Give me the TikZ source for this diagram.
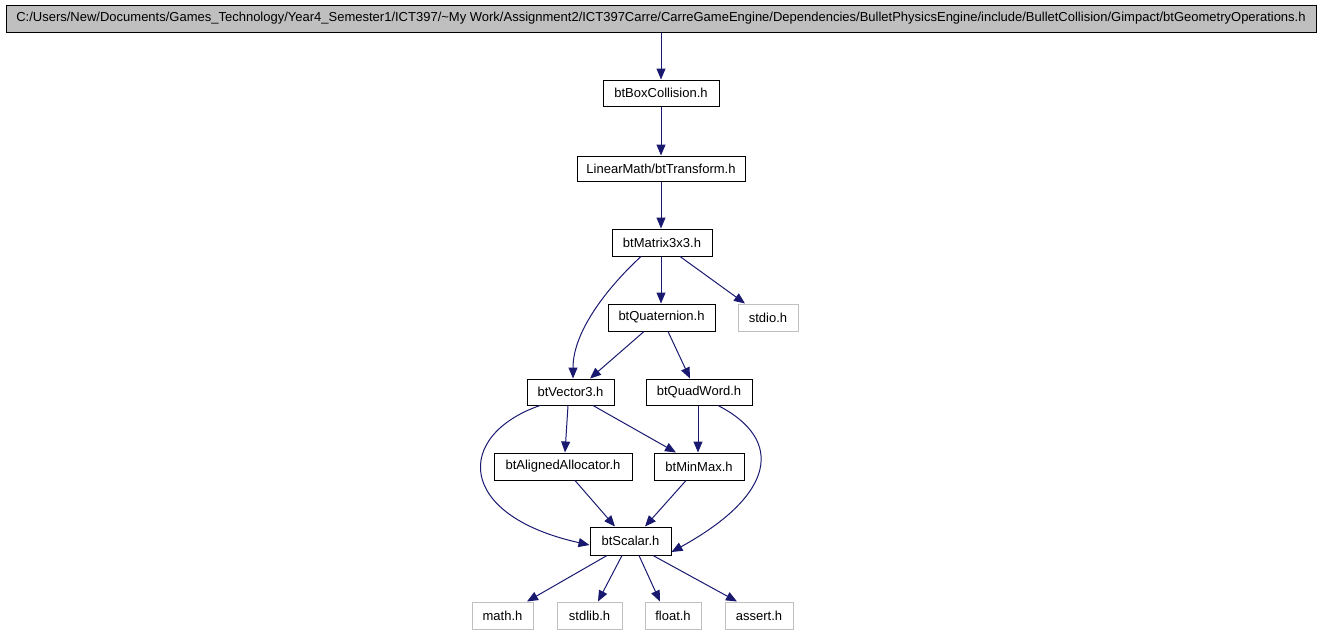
\documentclass[tikz,border=0pt]{standalone}
\usepackage{fontspec}
\setmainfont{Liberation Sans}
\usetikzlibrary{arrows.meta,calc}
\definecolor{edge}{HTML}{191970}
\definecolor{topfill}{HTML}{BFBFBF}
\definecolor{extborder}{HTML}{C0C0C0}
\tikzset{
  box/.style={draw=black, line width=1pt, inner sep=0pt, font=\fontsize{13}{15}\selectfont, text=black},
  extbox/.style={draw=extborder, line width=1pt, inner sep=0pt, font=\fontsize{13}{15}\selectfont, text=black},
  dep/.style={draw=edge, line width=1pt, -{Triangle[length=11pt,width=9pt]}, color=edge},
}
\begin{document}
\begin{tikzpicture}[x=1pt,y=-1pt]
\useasboundingbox (0,0) rectangle (1323,635);
\node[box, fill=topfill, minimum width=1310pt, minimum height=27pt] (top) at (661,18.5) {C:/Users/New/Documents/Games\_Technology/Year4\_Semester1/ICT397/\textasciitilde My Work/Assignment2/ICT397Carre/CarreGameEngine/Dependencies/BulletPhysicsEngine/include/BulletCollision/Gimpact/btGeometryOperations.h};
\node[box, minimum width=116pt, minimum height=26pt] (boxc) at (661,93) {btBoxCollision.h};
\node[box, minimum width=168pt, minimum height=25pt] (trans) at (661,168.5) {LinearMath/btTransform.h};
\node[box, minimum width=100pt, minimum height=27pt] (mat) at (662,242.5) {btMatrix3x3.h};
\node[box, minimum width=107pt, minimum height=27pt] (quat) at (661.5,317.5) {btQuaternion.h};
\node[extbox, minimum width=60pt, minimum height=27pt] (stdio) at (768,317.5) {stdio.h};
\node[box, minimum width=87pt, minimum height=26pt] (vec) at (570.5,392) {btVector3.h};
\node[box, minimum width=106pt, minimum height=26pt] (quad) at (699,392) {btQuadWord.h};
\node[box, minimum width=138pt, minimum height=27pt] (align) at (563,466.5) {btAlignedAllocator.h};
\node[box, minimum width=90pt, minimum height=27pt] (minmax) at (699,466.5) {btMinMax.h};
\node[box, minimum width=81pt, minimum height=28pt] (scalar) at (630.5,541) {btScalar.h};
\node[extbox, minimum width=61pt, minimum height=27pt] (math) at (502.5,615.5) {math.h};
\node[extbox, minimum width=65pt, minimum height=27pt] (stdlib) at (589.5,615.5) {stdlib.h};
\node[extbox, minimum width=56pt, minimum height=27pt] (float) at (673,615.5) {float.h};
\node[extbox, minimum width=68pt, minimum height=27pt] (assert) at (759,615.5) {assert.h};

\draw[dep] (top.south -| boxc) -- (boxc.north);
\draw[dep] (boxc.south) -- (trans.north);
\draw[dep] ([xshift=0pt]trans.south) -- ([xshift=-1pt]mat.north);
\draw[dep] ([xshift=-1pt]mat.south) -- ([xshift=-0.5pt]quat.north);
\draw[dep] ([xshift=18pt]mat.south) -- ([xshift=-23pt]stdio.north);
\draw[dep] ([xshift=-21pt]mat.south) .. controls (610,285) and (573,330) .. ([xshift=2.5pt]vec.north);
\draw[dep] ([xshift=-17.5pt]quat.south) -- ([xshift=19.5pt]vec.north);
\draw[dep] ([xshift=6.5pt]quat.south) -- ([xshift=-9pt]quad.north);
\draw[dep] ([xshift=-2.5pt]vec.south) -- ([xshift=2pt]align.north);
\draw[dep] ([xshift=22.5pt]vec.south) -- ([xshift=-23pt]minmax.north);
\draw[dep] ([xshift=-30.5pt]vec.south) .. controls (455,435) and (455,515) .. ([yshift=-4pt]scalar.west);
\draw[dep] ([xshift=-1pt]quad.south) -- ([xshift=-1pt]minmax.north);
\draw[dep] ([xshift=19pt]quad.south) .. controls (785,440) and (775,495) .. ([yshift=-11pt]scalar.east);
\draw[dep] ([xshift=12pt]align.south) -- ([xshift=-15.5pt]scalar.north);
\draw[dep] ([xshift=-13pt]minmax.south) -- ([xshift=14.5pt]scalar.north);
\draw[dep] ([xshift=-23.5pt]scalar.south) -- ([xshift=24.5pt]math.north);
\draw[dep] ([xshift=-8.5pt]scalar.south) -- ([xshift=8.5pt]stdlib.north);
\draw[dep] ([xshift=8.5pt]scalar.south) -- ([xshift=-13pt]float.north);
\draw[dep] ([xshift=22.5pt]scalar.south) -- ([xshift=-22pt]assert.north);
\end{tikzpicture}
\end{document}
